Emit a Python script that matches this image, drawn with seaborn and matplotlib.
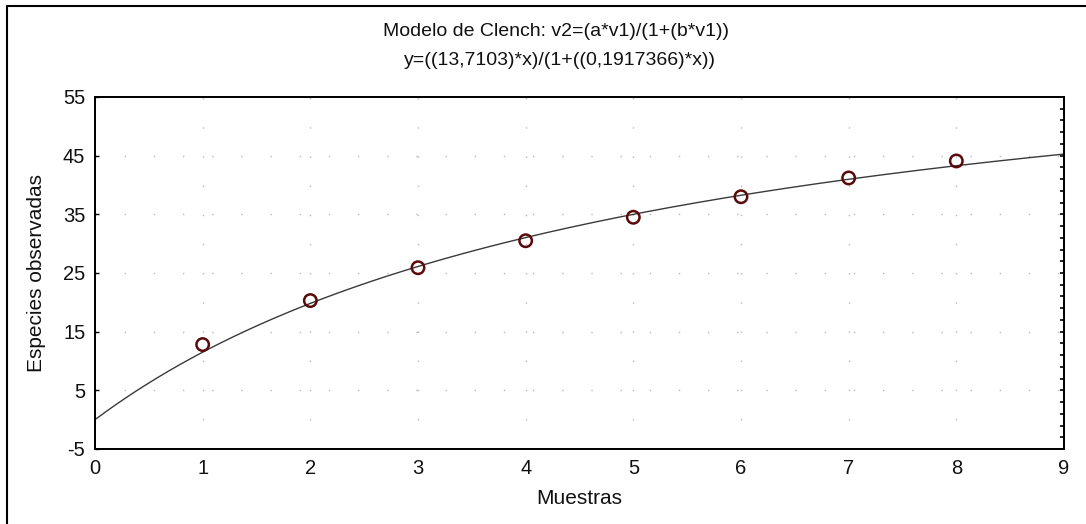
import numpy as np
import pandas as pd
import matplotlib
matplotlib.use("Agg")
import matplotlib.pyplot as plt
import seaborn as sns
from matplotlib.lines import Line2D

muestras = [1, 2, 3, 4, 5, 6, 7, 8]
especies = [12.8, 20.3, 25.9, 30.5, 34.5, 38.0, 41.2, 44.1]

# Clench model parameters (from the chart title)
a_param = 13.7103
b_param = 0.1917366

x_ticks = [0, 1, 2, 3, 4, 5, 6, 7, 8, 9]
y_ticks = [-5, 5, 15, 25, 35, 45, 55]

title_1 = "Modelo de Clench: v2=(a*v1)/(1+(b*v1))"
title_2 = "y=((13,7103)*x)/(1+((0,1917366)*x))"
x_label = "Muestras"
y_label = "Especies observadas"

sns.set_theme(style="white")
plt.rcParams['font.family'] = ['Liberation Sans', 'DejaVu Sans']
plt.rcParams['text.color'] = '#111111'
plt.rcParams['axes.labelcolor'] = '#111111'

fig = plt.figure(figsize=(10.86, 5.24), dpi=100)
ax = fig.add_axes([95/1086, 1-449/524, (1064-95)/1086, (449-97)/524])

xs = np.linspace(0, 9, 300)
curve = pd.DataFrame({"x": xs, "y": a_param * xs / (1 + b_param * xs)})
sns.lineplot(data=curve, x="x", y="y", ax=ax, color="#3a3a3a", linewidth=1.0)

obs = pd.DataFrame({"Muestras": muestras, "Especies": especies})
sns.scatterplot(data=obs, x="Muestras", y="Especies", ax=ax, marker="o",
                s=80, facecolor="none", edgecolor="#5a0a0a", linewidth=1.8, zorder=5)

ax.set_xlim(0, 9)
ax.set_ylim(-5, 55)
ax.set_xticks(x_ticks)
ax.set_yticks(y_ticks)
ax.set_xticklabels([str(v) for v in x_ticks])
ax.set_yticklabels([str(v) for v in y_ticks])
ax.tick_params(axis="both", labelsize=14.5, direction="in", length=3, width=1,
               colors="black", labelcolor="#111111", pad=7)
ax.tick_params(axis="x", pad=7)

# dotted grid
for gx in x_ticks[1:-1]:
    ax.axvline(gx, color="#b8b8b8", linewidth=1.0, linestyle=(0, (1, 20)), zorder=0)
for gy in y_ticks[1:-1]:
    ax.axhline(gy, color="#b8b8b8", linewidth=1.0, linestyle=(0, (1, 20)), zorder=0)

# right spine minor ticks
ax2 = ax.twinx()
ax2.set_ylim(-5, 55)
ax2.set_yticks(np.arange(55, -5, -2))
ax2.set_yticklabels([])
ax2.tick_params(axis="y", direction="in", length=3, width=1.2, colors="black")
ax2.grid(False)

for a in (ax, ax2):
    for sp in a.spines.values():
        sp.set_color("black")
        sp.set_linewidth(1.3)

ax.set_xlabel(x_label, fontsize=15, labelpad=8)
ax.set_ylabel(y_label, fontsize=15, labelpad=12)
ax.set_title("")

fig.text(556/1086, 1-32/524, title_1, ha="center", va="center", fontsize=14)
fig.text(560/1086, 1-61/524, title_2, ha="center", va="center", fontsize=14)

# outer frame (left and top visible)
fig.add_artist(Line2D([7/1086, 7/1086], [0, 1-6/524], transform=fig.transFigure,
                      color="black", linewidth=1.5))
fig.add_artist(Line2D([7/1086, 1], [1-6/524, 1-6/524], transform=fig.transFigure,
                      color="black", linewidth=1.5))

fig.savefig("out.png", dpi=100)
